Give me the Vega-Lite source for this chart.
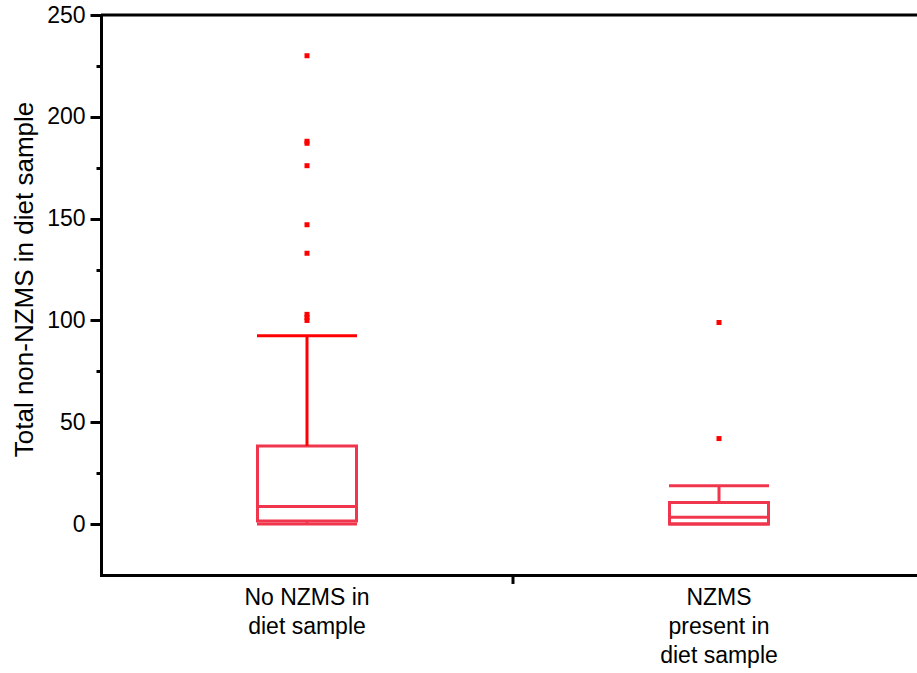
{
  "$schema": "https://vega.github.io/schema/vega-lite/v6.json",
  "autosize": {"type": "none"},
  "padding": {"left": 101, "top": 15, "right": 0, "bottom": 98},
  "width": 816,
  "height": 560,
  "config": {"view": {"stroke": null}, "font": "Liberation Sans"},
  "datasets": {
    "boxes": [
      {"group": "No NZMS in diet sample", "lower": 0, "q1": 1.5, "median": 8.6, "q3": 38.4, "upper": 92.5},
      {"group": "NZMS present in diet sample", "lower": 0, "q1": 0, "median": 3.4, "q3": 10.6, "upper": 18.8}
    ],
    "outliers": [
      {"group": "No NZMS in diet sample", "value": 230},
      {"group": "No NZMS in diet sample", "value": 188},
      {"group": "No NZMS in diet sample", "value": 187},
      {"group": "No NZMS in diet sample", "value": 176},
      {"group": "No NZMS in diet sample", "value": 147},
      {"group": "No NZMS in diet sample", "value": 133},
      {"group": "No NZMS in diet sample", "value": 103},
      {"group": "No NZMS in diet sample", "value": 101.5},
      {"group": "No NZMS in diet sample", "value": 100},
      {"group": "NZMS present in diet sample", "value": 99},
      {"group": "NZMS present in diet sample", "value": 42}
    ]
  },
  "layer": [
    {
      "data": {"name": "boxes"},
      "mark": {"type": "bar", "size": 99, "fill": "white", "stroke": "#f0364c", "strokeWidth": 3, "opacity": 1},
      "encoding": {
        "x": {
          "field": "group", "type": "nominal", "sort": null, "title": null,
          "scale": {"domain": ["No NZMS in diet sample", "NZMS present in diet sample"], "range": [0, 824], "paddingInner": 0, "paddingOuter": 0},
          "axis": {
            "title": null, "domainColor": "black", "domainWidth": 3, "domainCap": "square",
            "ticks": false,
            "labelExpr": "datum.value === 'No NZMS in diet sample' ? ['No NZMS in', 'diet sample'] : ['NZMS', 'present in', 'diet sample']",
            "labelFontSize": 23, "labelColor": "black", "labelAngle": 0, "labelPadding": 11,
            "labelLineHeight": 29, "labelBaseline": "top", "grid": false
          }
        },
        "y": {
          "field": "q1", "type": "quantitative", "title": "Total non-NZMS in diet sample",
          "scale": {"domain": [-25, 250], "nice": false, "zero": false},
          "axis": {
            "values": [0, 25, 50, 75, 100, 125, 150, 175, 200, 225, 250],
            "labelExpr": "datum.value % 50 === 0 ? datum.label : ''",
            "domainColor": "black", "domainWidth": 3,
            "tickColor": "black", "tickWidth": 3,
            "tickSize": {"condition": {"test": "datum.value % 50 === 0", "value": 11}, "value": 5},
            "labelFontSize": 23, "labelColor": "black", "labelPadding": 5,
            "titleFontSize": 26, "titleFontWeight": "normal", "titleColor": "black", "titlePadding": 9,
            "titleY": 264, "grid": false
          }
        },
        "y2": {"field": "q3"}
      }
    },
    {
      "data": {"name": "boxes"},
      "mark": {"type": "rule", "strokeWidth": 3, "opacity": 1},
      "encoding": {
        "x": {"field": "group", "type": "nominal", "sort": null, "title": null},
        "y": {"field": "q3", "type": "quantitative", "title": "Total non-NZMS in diet sample"},
        "y2": {"field": "upper"},
        "color": {"field": "group", "type": "nominal", "legend": null,
          "scale": {"domain": ["No NZMS in diet sample", "NZMS present in diet sample"], "range": ["#ff0000", "#f0364c"]}}
      }
    },
    {
      "data": {"name": "boxes"},
      "mark": {"type": "tick", "size": 100, "thickness": 3, "opacity": 1},
      "encoding": {
        "x": {"field": "group", "type": "nominal", "sort": null, "title": null},
        "y": {"field": "upper", "type": "quantitative", "title": "Total non-NZMS in diet sample"},
        "color": {"field": "group", "type": "nominal", "legend": null}
      }
    },
    {
      "data": {"name": "boxes"},
      "mark": {"type": "rule", "strokeWidth": 3, "color": "#f0364c", "opacity": 1},
      "encoding": {
        "x": {"field": "group", "type": "nominal", "sort": null, "title": null},
        "y": {"field": "lower", "type": "quantitative", "title": "Total non-NZMS in diet sample"},
        "y2": {"field": "q1"}
      }
    },
    {
      "data": {"name": "boxes"},
      "mark": {"type": "tick", "size": 100, "thickness": 3, "color": "#f0364c", "opacity": 1},
      "encoding": {
        "x": {"field": "group", "type": "nominal", "sort": null, "title": null},
        "y": {"field": "lower", "type": "quantitative", "title": "Total non-NZMS in diet sample"}
      }
    },
    {
      "data": {"name": "boxes"},
      "mark": {"type": "tick", "size": 99, "thickness": 3, "color": "#f0364c", "opacity": 1},
      "encoding": {
        "x": {"field": "group", "type": "nominal", "sort": null, "title": null},
        "y": {"field": "median", "type": "quantitative", "title": "Total non-NZMS in diet sample"}
      }
    },
    {
      "data": {"name": "outliers"},
      "mark": {"type": "point", "shape": "square", "filled": true, "size": 25, "color": "#ff0000", "opacity": 1},
      "encoding": {
        "x": {"field": "group", "type": "nominal", "sort": null, "title": null},
        "y": {"field": "value", "type": "quantitative", "title": "Total non-NZMS in diet sample"}
      }
    },
    {
      "data": {"values": [{}]},
      "mark": {"type": "rule", "strokeWidth": 3, "color": "black"},
      "encoding": {
        "y": {"datum": 250, "type": "quantitative"}
      }
    },
    {
      "data": {"values": [{}]},
      "mark": {"type": "rule", "strokeWidth": 3, "color": "black"},
      "encoding": {
        "x": {"datum": "NZMS present in diet sample", "type": "nominal", "bandPosition": 0},
        "y": {"datum": -25, "type": "quantitative"},
        "y2": {"datum": -29.4}
      }
    }
  ]
}
